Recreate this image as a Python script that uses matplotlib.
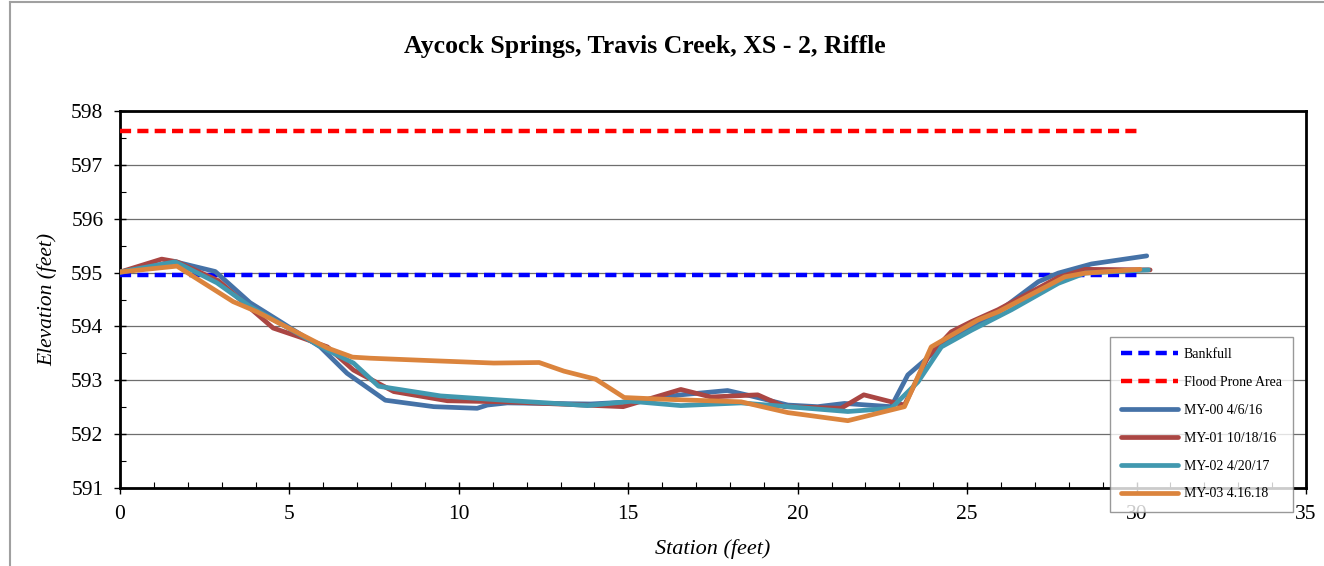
import matplotlib
matplotlib.use("Agg")
import matplotlib.pyplot as plt
from matplotlib.lines import Line2D
from matplotlib.ticker import MultipleLocator

# ---- data ----
title = "Aycock Springs, Travis Creek, XS - 2, Riffle"
xlabel = "Station (feet)"
ylabel = "Elevation (feet)"

bankfull_x = [0, 30.1]
bankfull_y = [594.95, 594.95]
flood_x = [0, 30.1]
flood_y = [597.63, 597.63]

my00_x = [0, 1.63, 2.81, 3.84, 4.73, 5.91, 6.70, 7.83, 9.26, 10.54, 10.84, 11.43,
          13.89, 15.08, 16.55, 17.93, 18.62, 19.71, 20.59, 21.38, 22.76, 23.25,
          24.34, 25.13, 25.91, 27.10, 27.69, 28.67, 30.30]
my00_y = [595.00, 595.20, 595.02, 594.44, 594.09, 593.62, 593.13, 592.63, 592.51, 592.48, 592.54, 592.58,
          592.56, 592.60, 592.73, 592.81, 592.71, 592.54, 592.51, 592.57, 592.51, 593.10,
          593.69, 593.97, 594.27, 594.83, 594.99, 595.16, 595.31]

my01_x = [0, 1.23, 1.68, 2.90, 4.52, 5.32, 6.12, 6.89, 8.08, 9.66, 11.33, 13.70,
          14.85, 16.55, 17.44, 18.82, 19.61, 21.28, 21.95, 22.76, 23.15, 23.85,
          24.53, 25.13, 25.91, 27.69, 28.48, 30.40]
my01_y = [595.01, 595.25, 595.20, 594.85, 593.97, 593.80, 593.62, 593.19, 592.79, 592.62, 592.60, 592.54,
          592.51, 592.83, 592.69, 592.73, 592.51, 592.48, 592.73, 592.60, 592.54, 593.44,
          593.90, 594.09, 594.31, 594.91, 595.06, 595.05]

my02_x = [0, 1.63, 2.86, 3.84, 6.12, 6.89, 7.63, 9.46, 11.33, 12.61, 13.80, 15.08,
          16.55, 18.33, 19.71, 21.48, 22.76, 23.55, 24.24, 25.13, 26.31, 27.69,
          28.48, 30.35]
my02_y = [595.01, 595.20, 594.81, 594.37, 593.56, 593.32, 592.89, 592.71, 592.63, 592.58, 592.53, 592.61,
          592.53, 592.58, 592.51, 592.42, 592.48, 592.97, 593.62, 593.93, 594.31, 594.80,
          594.99, 595.05]

my03_x = [0, 1.68, 3.34, 4.05, 6.12, 6.86, 7.39, 9.36, 11.03, 12.37, 13.10, 14.04,
          14.88, 15.96, 18.33, 19.71, 21.48, 23.15, 23.94, 25.32, 25.91, 27.88,
          28.48, 30.10]
my03_y = [595.01, 595.12, 594.46, 594.27, 593.60, 593.43, 593.41, 593.36, 593.32, 593.33, 593.17, 593.02,
          592.68, 592.65, 592.60, 592.40, 592.25, 592.51, 593.62, 594.12, 594.27, 594.92,
          594.99, 595.06]

series_labels = ["MY-00 4/6/16", "MY-01 10/18/16", "MY-02 4/20/17", "MY-03 4.16.18"]
series_colors = ["#4572A7", "#AA4643", "#4198AF", "#DB843D"]

# ---- figure ----
plt.rcParams['font.family'] = ['Liberation Serif', 'DejaVu Serif']
W, H = 1324, 566
fig = plt.figure(figsize=(W / 100, H / 100), dpi=100)
ax = fig.add_axes([120 / W, 1 - 488 / H, (1306 - 120) / W, (488 - 111) / H])

ax.plot(bankfull_x, bankfull_y, color="#0000FF", lw=3.2, linestyle=(0, (2.5, 1.4)),
        label="Bankfull", zorder=3)
ax.plot(flood_x, flood_y, color="#FF0000", lw=3.2, linestyle=(0, (2.5, 1.4)),
        label="Flood Prone Area", zorder=3)

for xs, ys, lab, c in zip([my00_x, my01_x, my02_x, my03_x],
                          [my00_y, my01_y, my02_y, my03_y],
                          series_labels, series_colors):
    ax.plot(xs, ys, color=c, lw=3.4, label=lab, solid_joinstyle='round',
            solid_capstyle='round', zorder=4)

ax.set_xlim(0, 35)
ax.set_ylim(591, 598)
ax.xaxis.set_major_locator(MultipleLocator(5))
ax.xaxis.set_minor_locator(MultipleLocator(1))
ax.yaxis.set_major_locator(MultipleLocator(1))
ax.yaxis.set_minor_locator(MultipleLocator(0.5))
ax.grid(axis='y', which='major', color='#6e6e6e', lw=0.9)
ax.set_axisbelow(True)

for s in ax.spines.values():
    s.set_linewidth(2.0)
    s.set_color('black')

ax.tick_params(which='major', direction='inout', length=8, width=1.0, labelsize=15.5,
               colors='black')
ax.tick_params(axis='y', which='major', pad=8)
ax.tick_params(axis='x', which='major', pad=8)
ax.tick_params(which='minor', direction='in', length=4, width=0.8)

ax.set_xlabel(xlabel, fontsize=16, style='italic', labelpad=11)
ax.set_ylabel(ylabel, fontsize=15.5, style='italic', labelpad=10)

fig.text(645 / W, 1 - 47 / H, title, ha='center', va='center', fontsize=18.5,
         fontweight='bold')

leg = ax.legend(loc='upper left', bbox_to_anchor=(1110 / W, 1 - 337 / H),
                bbox_transform=fig.transFigure, fontsize=10, frameon=True,
                fancybox=False, edgecolor='#808080', handlelength=4.1,
                labelspacing=1.07, borderpad=0.8, handletextpad=0.4,
                borderaxespad=0)
leg.get_frame().set_linewidth(1.0)
leg.set_zorder(10)

# figure border
fig.add_artist(Line2D([10 / W, 10 / W], [0, 1 - 2 / H], transform=fig.transFigure,
                      color='#a0a0a0', lw=1.5))
fig.add_artist(Line2D([10 / W, 1], [1 - 2 / H, 1 - 2 / H], transform=fig.transFigure,
                      color='#a0a0a0', lw=1.5))

fig.savefig("out.png", dpi=100)
